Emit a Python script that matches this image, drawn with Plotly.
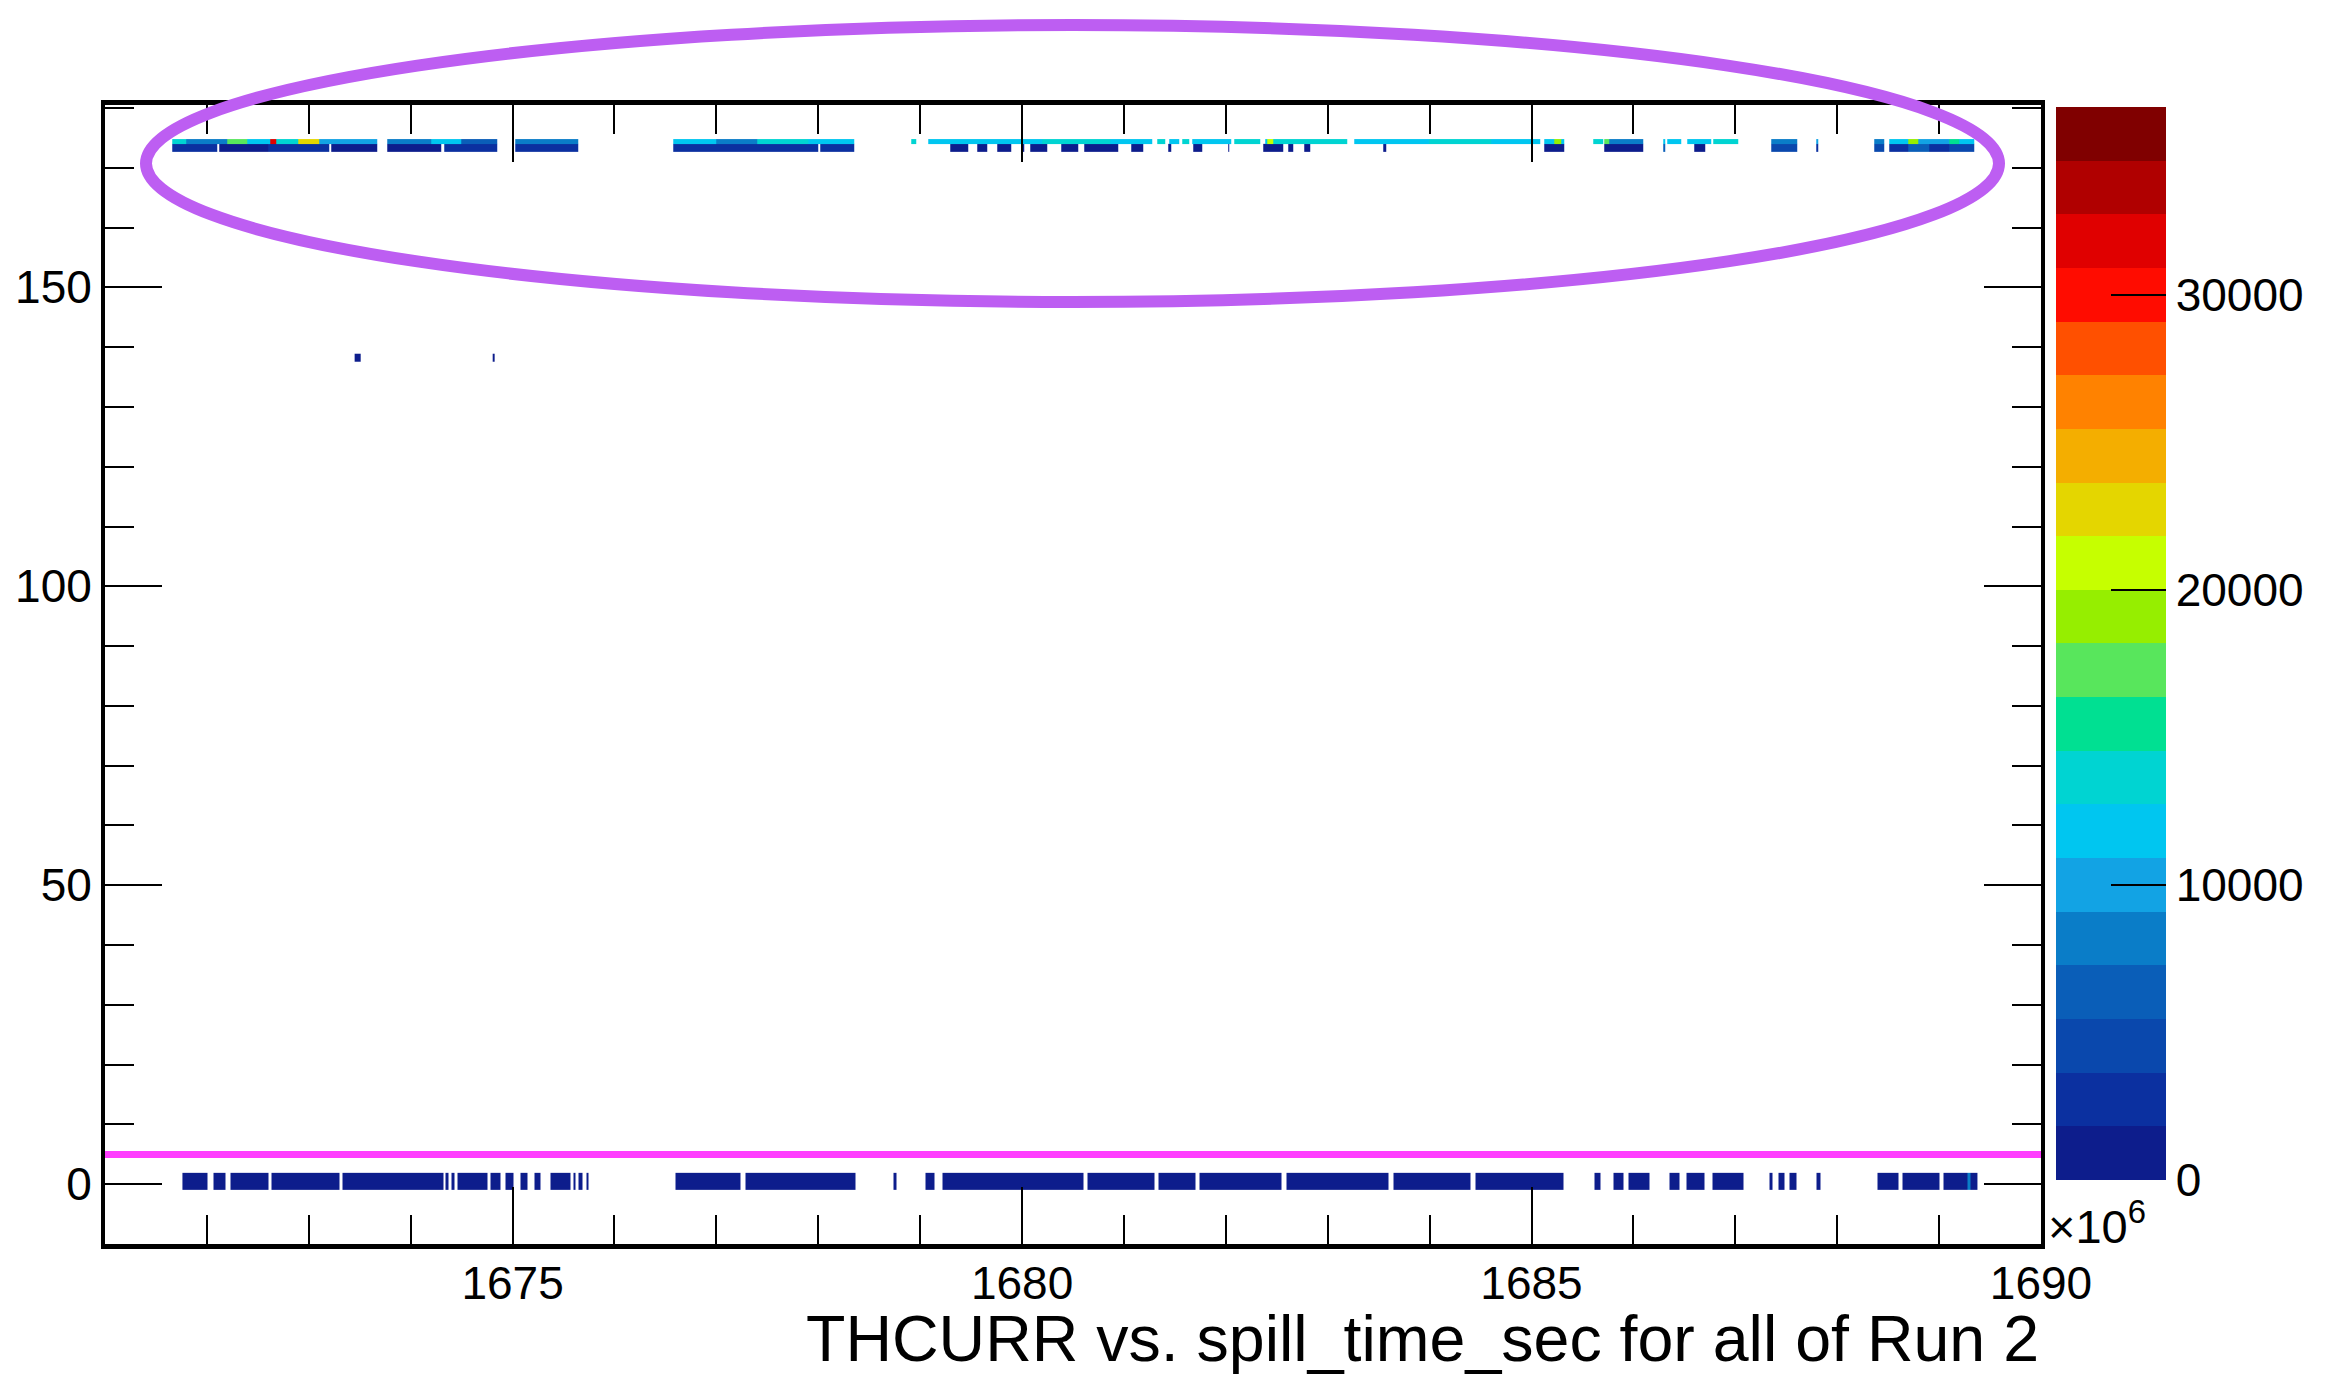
import plotly.graph_objects as go

# ---------------- data (x in units of 10^6 s) ----------------
# Each entry: (x_start, x_end, bin content)
bottom_row_y = [-0.9, 1.9]
bottom_segments = [
    (1671.76, 1672.01, 900), (1672.06, 1672.18, 900), (1672.23, 1672.60, 1000),
    (1672.63, 1673.30, 900), (1673.33, 1674.32, 1100), (1674.34, 1674.37, 900),
    (1674.40, 1674.43, 900), (1674.46, 1674.75, 1200), (1674.78, 1674.88, 900),
    (1674.93, 1675.01, 900), (1675.08, 1675.15, 900), (1675.21, 1675.27, 900),
    (1675.37, 1675.57, 1300), (1675.60, 1675.62, 900), (1675.65, 1675.69, 900),
    (1675.72, 1675.74, 900),
    (1676.60, 1677.24, 1000), (1677.29, 1678.36, 1100),
    (1678.74, 1678.77, 900),
    (1679.05, 1679.14, 900), (1679.22, 1680.60, 1100), (1680.64, 1681.30, 1000),
    (1681.34, 1681.70, 900), (1681.74, 1682.55, 1100), (1682.59, 1683.60, 1000),
    (1683.64, 1684.40, 1100), (1684.45, 1685.31, 1000),
    (1685.62, 1685.68, 900), (1685.80, 1685.90, 900), (1685.95, 1686.16, 1000),
    (1686.35, 1686.45, 900), (1686.52, 1686.70, 900), (1686.78, 1687.08, 1000),
    (1687.33, 1687.36, 900), (1687.42, 1687.48, 900), (1687.53, 1687.60, 900),
    (1687.80, 1687.84, 900),
    (1688.39, 1688.60, 900), (1688.64, 1689.00, 1000), (1689.04, 1689.28, 900),
    (1689.28, 1689.31, 9000), (1689.31, 1689.38, 900),
]

top_lower_y = [172.6, 174.0]
top_lower_segments = [
    (1671.66, 1672.10, 2500), (1672.12, 1672.60, 1500), (1672.60, 1672.70, 3500),
    (1672.70, 1673.20, 2000), (1673.22, 1673.67, 1500),
    (1673.77, 1674.30, 1500), (1674.33, 1674.85, 2500),
    (1675.03, 1675.64, 2000),
    (1676.58, 1677.30, 3000), (1677.30, 1678.00, 2000), (1678.02, 1678.35, 2500),
    (1679.30, 1679.47, 1200), (1679.56, 1679.66, 1200), (1679.76, 1679.89, 1200),
    (1679.99, 1680.02, 1200), (1680.08, 1680.25, 1200), (1680.38, 1680.55, 1200),
    (1680.61, 1680.94, 1200), (1681.07, 1681.19, 1200), (1681.43, 1681.46, 1200),
    (1681.68, 1681.77, 1200), (1682.02, 1682.03, 1200), (1682.37, 1682.56, 1200),
    (1682.61, 1682.66, 1200), (1682.77, 1682.83, 1200), (1683.54, 1683.57, 1200),
    (1685.12, 1685.32, 1200),
    (1685.71, 1686.10, 1500),
    (1686.29, 1686.31, 6000), (1686.60, 1686.70, 1500),
    (1687.35, 1687.61, 5000),
    (1687.79, 1687.81, 3000),
    (1688.36, 1688.46, 4500),
    (1688.51, 1688.70, 3000), (1688.70, 1688.90, 6000), (1688.90, 1689.10, 3000),
    (1689.10, 1689.34, 5000),
]

top_upper_y = [174.0, 174.8]
top_upper_segments = [
    (1671.66, 1671.80, 14000), (1671.80, 1672.20, 9000), (1672.20, 1672.40, 17000),
    (1672.40, 1672.62, 11000), (1672.62, 1672.68, 31000), (1672.68, 1672.90, 13000),
    (1672.90, 1673.10, 22000), (1673.10, 1673.67, 10000),
    (1673.77, 1674.20, 8000), (1674.20, 1674.50, 12000), (1674.50, 1674.85, 7000),
    (1675.03, 1675.64, 8000),
    (1676.58, 1677.00, 12000), (1677.00, 1677.40, 9000), (1677.40, 1677.90, 14000),
    (1677.90, 1678.35, 11000),
    (1678.91, 1678.96, 13000),
    (1679.08, 1679.60, 12500), (1679.60, 1680.20, 11000), (1680.20, 1680.87, 13000),
    (1680.87, 1681.28, 11000), (1681.33, 1681.41, 13000), (1681.44, 1681.54, 12000),
    (1681.57, 1681.64, 13000), (1681.67, 1682.05, 12000), (1682.08, 1682.34, 13500),
    (1682.39, 1682.41, 12000), (1682.41, 1682.47, 21000), (1682.47, 1683.19, 13000),
    (1683.26, 1684.00, 12000), (1684.00, 1684.60, 13500), (1684.60, 1685.09, 12000),
    (1685.12, 1685.22, 11000), (1685.22, 1685.29, 20000), (1685.29, 1685.32, 11000),
    (1685.61, 1685.70, 13000), (1685.71, 1685.76, 17000), (1685.76, 1686.10, 8000),
    (1686.29, 1686.31, 12000), (1686.33, 1686.47, 12500), (1686.53, 1686.76, 12000),
    (1686.78, 1687.03, 13000), (1687.35, 1687.61, 9000), (1687.79, 1687.81, 10000),
    (1688.36, 1688.46, 8000), (1688.51, 1688.70, 12000), (1688.70, 1688.80, 20000),
    (1688.80, 1689.10, 10000), (1689.10, 1689.20, 16000), (1689.20, 1689.34, 11000),
]

mid_row_y = [137.5, 138.9]
mid_segments = [
    (1673.45, 1673.51, 900), (1674.80, 1674.82, 900),
]

x_tick_vals = [1675, 1680, 1685, 1690]
y_tick_vals = [0, 50, 100, 150]
z_tick_vals = [0, 10000, 20000, 30000]
z_max = 36364

# ROOT-like 20 level palette (bottom -> top)
palette = [
    "#0d1d8c", "#0b30a0", "#0a48ad", "#0a5eb8", "#0a7dc8", "#12a3e4", "#00c6f0",
    "#00d4d2", "#00e092", "#58e65c", "#96ee00", "#c6ff00", "#e4d600", "#f4ae00",
    "#ff8200", "#ff5000", "#ff0c00", "#e00000", "#b00000", "#800000",
]

# ---------------- build ----------------
def row_cells(segments):
    edges, vals = [], []
    for a, b, v in segments:
        if not edges:
            edges.append(a)
        elif edges[-1] < a:
            vals.append(None)
            edges.append(a)
        edges.append(b)
        vals.append(v)
    return edges, vals

colorscale = []
n = len(palette)
for i, c in enumerate(palette):
    colorscale.append([i / n, c])
    colorscale.append([(i + 1) / n, c])

fig = go.Figure()
for segs, ys in [(bottom_segments, bottom_row_y), (top_lower_segments, top_lower_y),
                 (top_upper_segments, top_upper_y), (mid_segments, mid_row_y)]:
    xe, zv = row_cells(segs)
    fig.add_trace(go.Heatmap(x=xe, y=ys, z=[zv], coloraxis="coloraxis",
                             zsmooth=False, hoverongaps=False))

FONT = "Liberation Sans, Arial, Helvetica, sans-serif"
W, H = 2340, 1377
L, R, T, B = 97, 307, 97, 141
PW, PH = W - L - R, H - T - B
DX, DY = 7, 7   # offset of the reference frame vs. the measured pixel positions

def px_to_paper_x(px):
    return (px - DX - L) / PW

def px_to_paper_y(py):
    return (H - B - (py - DY)) / PH

fig.update_layout(
    width=W, height=H,
    margin=dict(l=L, r=R, t=T, b=B, autoexpand=False),
    paper_bgcolor="white", plot_bgcolor="white",
    showlegend=False,
    font=dict(family=FONT, size=46, color="black"),
    coloraxis=dict(
        colorscale=colorscale, cmin=0, cmax=z_max,
        colorbar=dict(
            x=px_to_paper_x(2055), xanchor="left", xpad=0, ypad=0,
            y=px_to_paper_y(642.5), yanchor="middle",
            thickness=110, lenmode="pixels", len=1073,
            tickvals=z_tick_vals, ticktext=[str(v) for v in z_tick_vals],
            ticks="inside", ticklen=55, tickwidth=2, tickcolor="black",
            tickfont=dict(family=FONT, size=46, color="black"),
            outlinewidth=0,
        ),
    ),
    xaxis=dict(
        range=[1671, 1690], tickvals=x_tick_vals,
        ticks="inside", ticklen=57, tickwidth=2, tickcolor="black",
        minor=dict(dtick=1, tick0=1671, ticks="inside", ticklen=29, tickwidth=2, tickcolor="black"),
        showline=True, linewidth=5, linecolor="black", mirror="allticks",
        showgrid=False, zeroline=False, automargin=False,
        tickfont=dict(family=FONT, size=46, color="black"),
        ticklabelstandoff=-5,
    ),
    yaxis=dict(
        range=[-10, 180.5], tickvals=y_tick_vals,
        ticks="inside", ticklen=57, tickwidth=2, tickcolor="black",
        minor=dict(dtick=10, tick0=0, ticks="inside", ticklen=29, tickwidth=2, tickcolor="black"),
        showline=True, linewidth=4, linecolor="black", mirror="allticks",
        showgrid=False, zeroline=False, automargin=False,
        tickfont=dict(family=FONT, size=46, color="black"),
        ticklabelstandoff=0,
    ),
)

fig.add_annotation(
    text="THCURR vs. spill_time_sec for all of Run 2",
    xref="paper", yref="paper", x=1.0, y=px_to_paper_y(1376),
    xanchor="right", yanchor="bottom", showarrow=False,
    font=dict(family=FONT, size=64.5, color="black"),
)
fig.add_annotation(
    text="×10<sup>6</sup>",
    xref="paper", yref="paper", x=px_to_paper_x(2045), y=px_to_paper_y(1254),
    xanchor="left", yanchor="bottom", showarrow=False,
    font=dict(family=FONT, size=47, color="black"),
)

# highlight marks drawn on the original picture
fig.add_shape(type="circle", xref="paper", yref="paper",
              x0=px_to_paper_x(145), x1=px_to_paper_x(1998),
              y0=px_to_paper_y(301), y1=px_to_paper_y(24),
              line=dict(color="#bd5ef2", width=12), layer="above")
fig.add_shape(type="line", xref="paper", yref="paper",
              x0=px_to_paper_x(104), x1=px_to_paper_x(2040),
              y0=px_to_paper_y(1153.5), y1=px_to_paper_y(1153.5),
              line=dict(color="#ff3dff", width=7), layer="above")

fig.write_html("out.html")
